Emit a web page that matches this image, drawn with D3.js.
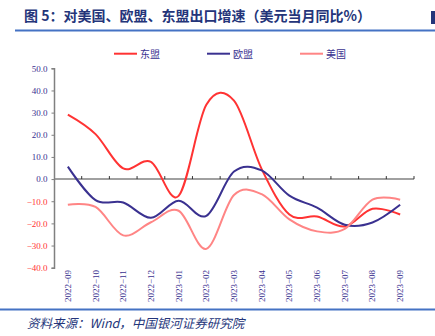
<!DOCTYPE html>
<html><head><meta charset="utf-8">
<script src="https://cdn.jsdelivr.net/npm/d3@7"></script>
<style>body{margin:0;background:#fff}svg{display:block}</style>
</head><body>
<script>
const categories = ["2022-09","2022-10","2022-11","2022-12","2023-01","2023-02","2023-03","2023-04","2023-05","2023-06","2023-07","2023-08","2023-09"];
const seriesNames = ["东盟","欧盟","美国"];
const asean = [29.1, 20.3, 4.8, 7.8, -7.6, 33.5, 35.4, 4.5, -16.0, -16.9, -21.4, -13.4, -16.0];
const eu = [5.6, -9.5, -10.6, -17.5, -9.8, -16.6, 3.4, 3.9, -7.5, -12.9, -20.6, -19.6, -11.6];
const us = [-11.6, -12.6, -25.4, -19.5, -14.3, -31.5, -7.2, -6.8, -18.2, -23.6, -22.5, -9.3, -9.3];
const yTicks = [50,40,30,20,10,0,-10,-20,-30,-40];
const colors = ["#FF3333","#3A3190","#FF8585"];
const title = "图 5：对美国、欧盟、东盟出口增速（美元当月同比%）";
const source = "资料来源：Wind，中国银河证券研究院";

const W=435,H=336;
const svg=d3.select("body").append("svg").attr("width",W).attr("height",H);

// title
svg.append("text").attr("x",24).attr("y",21).text(title)
  .attr("font-family","'Noto Sans CJK SC'").attr("font-weight","bold")
  .attr("font-size",14).attr("fill","#24357A");
svg.append("rect").attr("x",431).attr("y",11).attr("width",4).attr("height",13).attr("fill","#24357A");
svg.append("line").attr("x1",15).attr("x2",W).attr("y1",30.5).attr("y2",30.5)
  .attr("stroke","#4472C4").attr("stroke-width",2);

// scales
const x=d3.scaleBand().domain(categories).range([54,414]);
const y=d3.scaleLinear().domain([-40,50]).range([267.7,68.3]);

// y axis
const yAxis=d3.axisLeft(y).tickValues(yTicks).tickFormat(d=>d3.format(".1f")(d).replace("-","−")).tickSize(2.5).tickPadding(4);
const gy=svg.append("g").attr("transform","translate(54,0)").call(yAxis);
gy.select(".domain").attr("stroke","#808080").attr("stroke-width",1.5);
gy.selectAll(".tick line").attr("stroke","#808080");
gy.selectAll(".tick text").attr("font-family","'Liberation Serif'").attr("font-size",9)
  .attr("fill",d=>d<0?"#FF3333":"#3A3190");

// x axis at zero with ticks upward between categories
const gx=svg.append("g").attr("transform",`translate(0,${y(0)})`);
gx.append("line").attr("x1",54).attr("x2",414).attr("y1",0).attr("y2",0)
  .attr("stroke","#808080").attr("stroke-width",1.5);
gx.selectAll("line.tk").data(categories).enter().append("line")
  .attr("class","tk")
  .attr("x1",d=>x(d)+x.step()).attr("x2",d=>x(d)+x.step())
  .attr("y1",0).attr("y2",-3).attr("stroke","#333").attr("stroke-width",1);

// x labels at bottom, rotated
svg.append("g").selectAll("text").data(categories).enter().append("text")
  .attr("transform",d=>`translate(${x(d)+x.bandwidth()/2+3},302) rotate(-90)`)
  .text(d=>d.replace("-","−"))
  .attr("font-family","'Liberation Serif'").attr("font-size",9).attr("fill","#3A3190");

// lines
const line=d3.line().x((d,i)=>x(categories[i])+x.bandwidth()/2).y(d=>y(d)).curve(d3.curveCatmullRom.alpha(0));
[asean,eu,us].forEach((s,k)=>{
  svg.append("path").datum(s).attr("d",line).attr("fill","none")
    .attr("stroke",colors[k]).attr("stroke-width",2);
});

// legend
const lx=[114,207,300];
seriesNames.forEach((n,k)=>{
  svg.append("line").attr("x1",lx[k]).attr("x2",lx[k]+23).attr("y1",53.7).attr("y2",53.7)
    .attr("stroke",colors[k]).attr("stroke-width",2);
  svg.append("text").attr("x",lx[k]+26).attr("y",57.5).text(n)
    .attr("font-family","'Noto Sans CJK SC'").attr("font-size",10).attr("fill","#3A3190");
});

// bottom
svg.append("line").attr("x1",0).attr("x2",W).attr("y1",309.5).attr("y2",309.5)
  .attr("stroke","#4472C4").attr("stroke-width",2);
svg.append("text").attr("x",27).attr("y",328).text(source)
  .attr("font-family","'Noto Sans CJK SC'").attr("font-style","italic")
  .attr("font-size",12.5).attr("fill","#24357A");
</script>
</body></html>
